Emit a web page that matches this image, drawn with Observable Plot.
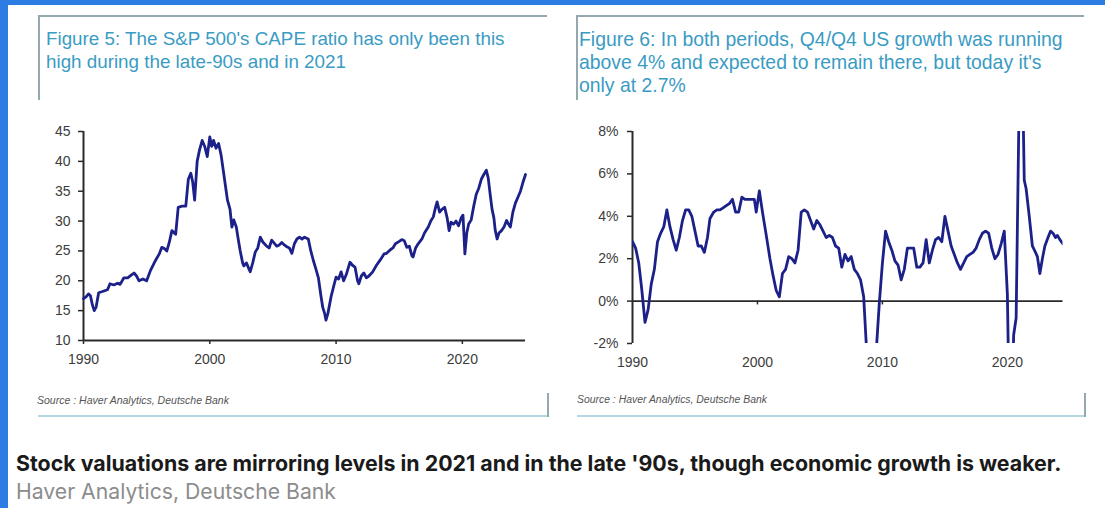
<!DOCTYPE html>
<html><head><meta charset="utf-8">
<script src="https://cdn.jsdelivr.net/npm/d3@7"></script>
<script src="https://cdn.jsdelivr.net/npm/@observablehq/plot@0.6"></script>
<style>
html,body{margin:0;padding:0}
body{width:1105px;height:508px;overflow:hidden;background:#fff;position:relative;font-family:"Liberation Sans",Arial,sans-serif}
.abs{position:absolute}
.line{position:absolute;white-space:nowrap;line-height:20px;height:20px}
.ttl{color:#3a9bc3;font-size:15px}
.src{font-style:italic;font-size:8px;color:#555}
#caption{font-family:Inter,"Liberation Sans",sans-serif;font-weight:700;font-size:19px;color:#1a1a1a;line-height:26px;height:26px}
#sub{font-family:Inter,"Liberation Sans",sans-serif;font-size:18px;color:#8c8c8c;line-height:24px;height:24px}
.chart{position:absolute;top:115px}
</style></head>
<body>
<div class="abs" style="left:0;top:0;width:1105px;height:5px;background:#2d7ce3"></div>
<div class="abs" style="left:0;top:0;width:8px;height:508px;background:#2d7ce3"></div>

<!-- left panel frame -->
<div class="abs" style="left:38px;top:15px;width:509px;height:2px;background:#93a9ae"></div>
<div class="abs" style="left:38px;top:15px;width:2px;height:85px;background:#93a9ae"></div>
<div class="abs" style="left:38px;top:415px;width:510px;height:2px;background:#b5d6e1"></div>
<div class="abs" style="left:547px;top:393px;width:2px;height:24px;background:#93a9ae"></div>
<!-- right panel frame -->
<div class="abs" style="left:576px;top:15px;width:508px;height:2px;background:#93a9ae"></div>
<div class="abs" style="left:576px;top:15px;width:2px;height:85px;background:#93a9ae"></div>
<div class="abs" style="left:577px;top:415px;width:509px;height:2px;background:#b5d6e1"></div>
<div class="abs" style="left:1084px;top:393px;width:2px;height:24px;background:#93a9ae"></div>

<div id="lt1" class="line ttl" style="left:46px;top:29px">Figure 5: The S&amp;P 500's CAPE ratio has only been this</div>
<div id="lt2" class="line ttl" style="left:46px;top:52px">high during the late-90s and in 2021</div>
<div id="rt1" class="line ttl" style="left:579px;top:29px">Figure 6: In both periods, Q4/Q4 US growth was running</div>
<div id="rt2" class="line ttl" style="left:579px;top:52px">above 4% and expected to remain there, but today it's</div>
<div id="rt3" class="line ttl" style="left:579px;top:75px">only at 2.7%</div>

<div id="ls" class="line src" style="left:37px;top:390px">Source : Haver Analytics, Deutsche Bank</div>
<div id="rs" class="line src" style="left:577px;top:390px">Source : Haver Analytics, Deutsche Bank</div>

<div id="caption" class="line" style="left:16px;top:450px">Stock valuations are mirroring levels in 2021 and in the late '90s, though economic growth is weaker.</div>
<div id="sub" class="line" style="left:16px;top:479px">Haver Analytics, Deutsche Bank</div>

<div id="left" class="chart" style="left:30px"></div>
<div id="right" class="chart" style="left:575px"></div>

<script>
// ---- Figure 5: S&P 500 CAPE ratio ----
const capeYears = [1990.0,1990.2,1990.4,1990.55,1990.7,1990.85,1991.0,1991.2,1991.5,1991.9,1992.1,1992.4,1992.7,1992.9,1993.2,1993.5,1993.8,1994.0,1994.2,1994.4,1994.7,1995.0,1995.3,1995.7,1996.0,1996.2,1996.4,1996.6,1996.8,1997.0,1997.3,1997.5,1997.8,1998.1,1998.3,1998.5,1998.65,1998.8,1999.0,1999.2,1999.4,1999.6,1999.8,2000.0,2000.15,2000.3,2000.5,2000.7,2000.9,2001.1,2001.3,2001.4,2001.6,2001.75,2001.9,2002.1,2002.25,2002.4,2002.6,2002.7,2002.9,2003.1,2003.2,2003.4,2003.6,2003.8,2004.0,2004.2,2004.5,2004.7,2004.9,2005.1,2005.3,2005.5,2005.7,2005.9,2006.1,2006.3,2006.5,2006.7,2006.9,2007.1,2007.3,2007.5,2007.8,2008.0,2008.2,2008.4,2008.6,2008.8,2008.95,2009.1,2009.2,2009.35,2009.6,2009.8,2010.0,2010.2,2010.4,2010.6,2010.8,2011.1,2011.3,2011.5,2011.7,2011.8,2012.0,2012.2,2012.4,2012.6,2012.9,2013.2,2013.5,2013.8,2014.0,2014.3,2014.5,2014.7,2015.0,2015.2,2015.4,2015.6,2015.8,2016.0,2016.1,2016.3,2016.5,2016.8,2017.0,2017.3,2017.5,2017.7,2017.9,2018.0,2018.2,2018.4,2018.6,2018.8,2018.95,2019.1,2019.3,2019.5,2019.7,2019.9,2020.05,2020.2,2020.35,2020.5,2020.7,2020.9,2021.1,2021.3,2021.5,2021.7,2021.9,2022.05,2022.2,2022.35,2022.5,2022.6,2022.75,2022.9,2023.1,2023.3,2023.5,2023.65,2023.8,2024.0,2024.2,2024.4,2024.6,2024.8,2025.0];
const capeValues = [17.0,17.3,17.8,17.5,16.0,15.0,15.6,18.0,18.2,18.5,19.5,19.3,19.6,19.4,20.5,20.5,21.0,21.3,20.8,20.0,20.3,20.0,21.7,23.4,24.5,25.6,25.4,25.0,26.5,28.4,27.8,32.3,32.5,32.5,37.0,38.0,36.5,33.5,40.0,42.0,43.5,42.5,40.8,44.1,42.5,43.5,42.2,43.0,41.0,38.0,35.0,33.5,32.0,29.0,30.2,29.0,27.0,25.1,23.0,22.5,23.0,22.0,21.5,23.0,24.8,25.5,27.3,26.5,25.8,25.5,26.8,26.3,25.8,26.0,26.4,26.0,25.7,25.5,24.6,26.2,27.0,27.3,27.0,27.3,27.0,25.0,23.4,22.0,20.5,17.5,15.5,14.5,13.4,14.5,17.3,19.0,20.6,20.3,21.5,20.0,21.0,23.1,22.6,22.3,20.0,19.5,20.8,21.3,20.5,20.8,21.5,22.6,23.5,24.5,24.6,25.2,25.5,26.2,26.6,26.9,26.7,25.6,25.8,24.2,24.0,25.5,26.2,27.0,28.0,29.0,30.0,30.7,32.5,33.2,31.5,32.0,32.3,30.5,28.4,29.8,29.5,30.0,29.2,30.5,31.0,24.5,28.0,29.5,30.2,32.5,34.5,35.5,37.0,37.8,38.5,37.2,34.5,32.0,30.5,28.5,27.0,28.0,28.4,29.0,30.1,29.5,29.0,31.5,33.0,34.0,35.0,36.5,37.8];
const capeTicks = [10,15,20,25,30,35,40,45];

// ---- Figure 6: Q4/Q4 US real GDP growth (%) ----
const gdpYears = [1990.0,1990.25,1990.5,1990.75,1991.0,1991.25,1991.5,1991.75,1992.0,1992.25,1992.5,1992.75,1993.0,1993.25,1993.5,1993.75,1994.0,1994.25,1994.5,1994.75,1995.0,1995.25,1995.5,1995.75,1996.0,1996.2,1996.5,1996.75,1997.0,1997.25,1997.5,1997.75,1998.0,1998.25,1998.5,1998.75,1999.0,1999.25,1999.5,1999.75,1999.9,2000.15,2000.4,2000.65,2001.0,2001.25,2001.5,2001.75,2002.0,2002.25,2002.5,2002.75,2003.0,2003.25,2003.5,2003.75,2004.0,2004.25,2004.5,2004.75,2005.0,2005.25,2005.5,2005.75,2006.0,2006.25,2006.5,2006.75,2007.0,2007.25,2007.5,2007.75,2008.0,2008.25,2008.5,2008.75,2009.0,2009.25,2009.5,2009.75,2010.0,2010.25,2010.5,2010.75,2011.0,2011.25,2011.5,2011.75,2012.0,2012.25,2012.5,2012.75,2013.0,2013.25,2013.5,2013.75,2014.0,2014.25,2014.5,2014.75,2015.0,2015.25,2015.5,2015.75,2016.0,2016.25,2016.5,2016.75,2017.0,2017.25,2017.5,2017.75,2018.0,2018.25,2018.5,2018.75,2019.0,2019.25,2019.5,2019.75,2020.0,2020.25,2020.5,2020.7,2021.0,2021.2,2021.35,2021.5,2021.75,2022.0,2022.25,2022.4,2022.6,2022.8,2023.0,2023.25,2023.45,2023.65,2023.85,2024.0,2024.2,2024.45];
const gdpValues = [2.8,2.5,1.8,0.5,-1.0,-0.4,0.8,1.5,2.8,3.2,3.5,4.3,3.5,2.9,2.4,3.0,3.8,4.3,4.3,4.0,3.3,2.6,2.6,2.3,3.0,3.9,4.2,4.3,4.3,4.4,4.5,4.6,4.8,4.2,4.2,4.9,4.8,4.8,4.8,4.8,4.2,5.2,4.2,3.3,2.0,1.2,0.5,0.2,1.3,1.5,2.1,2.0,1.8,2.4,4.2,4.3,4.2,3.8,3.4,3.8,3.6,3.3,3.0,3.1,3.0,2.6,2.5,1.6,2.2,1.9,2.1,1.5,1.3,1.0,0.2,-2.5,-3.3,-3.9,-2.4,-0.1,1.8,3.3,2.8,2.4,1.9,1.7,1.0,1.5,2.5,2.5,2.5,1.6,1.6,1.8,2.9,1.8,2.4,2.9,3.0,2.8,4.0,3.3,2.6,2.2,1.8,1.5,1.8,2.1,2.2,2.3,2.5,2.9,3.2,3.3,3.2,2.5,2.0,2.2,2.7,3.3,0.3,-9.0,-1.6,-0.8,12.0,11.0,5.7,5.3,4.0,2.6,2.3,2.1,1.3,2.0,2.6,3.0,3.3,3.2,3.0,3.1,2.9,2.7];
const gdpTicks = [-2,0,2,4,6,8];

const yearTicks = [1990,2000,2010,2020];

const cape = capeYears.map((x, i) => ({x, y: capeValues[i]}));
const gdp = gdpYears.map((x, i) => ({x, y: gdpValues[i]}));

const lineColor = "#1c2189";
const axisColor = "#2a2a2a";
const style = {background: "transparent", fontFamily: "'Liberation Sans', Arial, sans-serif", fontSize: "14px", color: "#3c3c3c", overflow: "visible"};

const left = Plot.plot({
  width: 510, height: 260,
  marginLeft: 53, marginRight: 15, marginTop: 16, marginBottom: 35,
  style,
  x: {domain: [1990, 2025]},
  y: {domain: [10, 45]},
  marks: [
    Plot.axisY({ticks: capeTicks, tickSize: 5, tickPadding: 8, stroke: axisColor, strokeWidth: 1.5, label: null, tickFormat: d => String(d)}),
    Plot.axisX({ticks: yearTicks, tickSize: 4, tickPadding: 10, stroke: axisColor, strokeWidth: 1.5, label: null, tickFormat: d => String(d)}),
    Plot.ruleX([1990], {stroke: axisColor, strokeWidth: 2}),
    Plot.ruleY([10], {stroke: axisColor, strokeWidth: 2}),
    Plot.line(cape, {x: "x", y: "y", stroke: lineColor, strokeWidth: 2.8, strokeLinejoin: "round"})
  ]
});
document.getElementById("left").append(left);

const right = Plot.plot({
  width: 510, height: 265,
  marginLeft: 57, marginRight: 22.5, marginTop: 16, marginBottom: 37,
  style,
  x: {domain: [1990, 2024.45]},
  y: {domain: [-2, 8]},
  marks: [
    Plot.axisY({ticks: gdpTicks, tickSize: 5, tickPadding: 9, stroke: axisColor, strokeWidth: 1.5, label: null, tickFormat: d => d + "%"}),
    Plot.axisX({ticks: yearTicks, tickSize: 0, tickPadding: 14, label: null, tickFormat: d => String(d)}),
    Plot.ruleX([1990], {stroke: axisColor, strokeWidth: 2}),
    Plot.ruleY([0], {stroke: axisColor, strokeWidth: 1.8}),
    Plot.ruleX(yearTicks.slice(1), {y1: 0, y2: -0.18, stroke: axisColor, strokeWidth: 1.5}),
    Plot.line(gdp, {x: "x", y: "y", stroke: lineColor, strokeWidth: 2.8, strokeLinejoin: "round", clip: true})
  ]
});
document.getElementById("right").append(right);

// fit text widths to the reference measurements
function fitTo(id, target, others) {
  const el = document.getElementById(id);
  const w = el.getBoundingClientRect().width;
  const fs = parseFloat(getComputedStyle(el).fontSize);
  const nfs = fs * target / w;
  el.style.fontSize = nfs + "px";
  (others || []).forEach(o => document.getElementById(o).style.fontSize = nfs + "px");
}
fitTo("lt1", 459, ["lt2"]);
fitTo("rt1", 484, ["rt2", "rt3"]);
fitTo("ls", 192);
fitTo("rs", 190);
fitTo("caption", 1046);
fitTo("sub", 320);
</script>
</body></html>
